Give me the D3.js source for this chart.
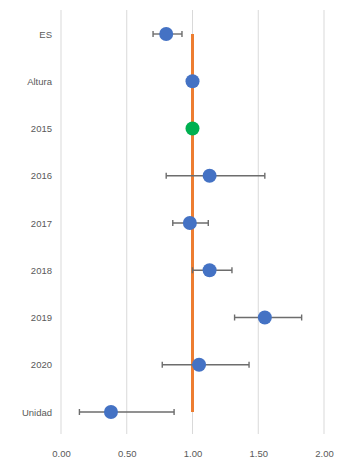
<!DOCTYPE html>
<html>
<head>
<meta charset="utf-8">
<script src="https://cdn.jsdelivr.net/npm/d3@7"></script>
<style>
  html, body { margin: 0; padding: 0; background: #fff; }
  svg { display: block; }
  text { font-family: "Liberation Sans", Arial, sans-serif; }
</style>
</head>
<body>
<div id="chart"></div>
<script>
// Categories (top to bottom) and their estimates with confidence limits
const categories = ["ES", "Altura", "2015", "2016", "2017", "2018", "2019", "2020", "Unidad"];
const estimates  = [0.80, 1.00, 1.00, 1.13, 0.98, 1.13, 1.55, 1.05, 0.38];
const lowerCI    = [0.70, null, null, 0.80, 0.85, 1.00, 1.32, 0.77, 0.14];
const upperCI    = [0.92, null, null, 1.55, 1.12, 1.30, 1.83, 1.43, 0.86];
const referenceCategory = "2015";
const referenceValue = 1;
const xTicks = [0, 0.5, 1, 1.5, 2];

const width = 340, height = 468;
const margin = { top: 10, right: 16, bottom: 34, left: 61 };

const svg = d3.select("#chart").append("svg")
  .attr("width", width).attr("height", height);

const x = d3.scaleLinear().domain([0, 2]).range([margin.left, width - margin.right]);
const y = d3.scalePoint().domain(categories)
  .range([34, 412]);

const rows = categories.map((c, i) => ({
  cat: c, est: estimates[i], lo: lowerCI[i], hi: upperCI[i]
}));

// vertical gridlines
svg.append("g").selectAll("line").data(xTicks).join("line")
  .attr("x1", d => x(d)).attr("x2", d => x(d))
  .attr("y1", margin.top).attr("y2", height - margin.bottom)
  .attr("stroke", "#d9d9d9").attr("stroke-width", 1);

// x axis labels
const xAxis = d3.axisBottom(x).tickValues(xTicks).tickFormat(d3.format(".2f")).tickSize(0).tickPadding(0);
const gx = svg.append("g").attr("transform", `translate(0,${450})`).call(xAxis);
gx.select(".domain").remove();
gx.selectAll("text").attr("fill", "#595959").attr("font-size", 9.5);

// y axis labels
const yAxis = d3.axisLeft(y).tickSize(0).tickPadding(9);
const gy = svg.append("g").attr("transform", `translate(${margin.left},0)`).call(yAxis);
gy.select(".domain").remove();
gy.selectAll("text").attr("fill", "#595959").attr("font-size", 9.5);

// reference line at 1
svg.append("path")
  .datum(categories)
  .attr("d", d3.line().x(() => x(referenceValue)).y(d => y(d)))
  .attr("stroke", "#ED7D31").attr("stroke-width", 3).attr("fill", "none");

// error bars
const eb = svg.append("g").selectAll("g").data(rows.filter(r => r.lo != null)).join("g")
  .attr("stroke", "#6d6d6d").attr("stroke-width", 1.4);
eb.append("line")
  .attr("x1", d => x(d.lo)).attr("x2", d => x(d.hi))
  .attr("y1", d => y(d.cat)).attr("y2", d => y(d.cat));
eb.append("line")
  .attr("x1", d => x(d.lo)).attr("x2", d => x(d.lo))
  .attr("y1", d => y(d.cat) - 3).attr("y2", d => y(d.cat) + 3);
eb.append("line")
  .attr("x1", d => x(d.hi)).attr("x2", d => x(d.hi))
  .attr("y1", d => y(d.cat) - 3).attr("y2", d => y(d.cat) + 3);

// point estimates
svg.append("g").selectAll("circle").data(rows).join("circle")
  .attr("cx", d => x(d.est)).attr("cy", d => y(d.cat)).attr("r", 7)
  .attr("fill", d => d.cat === referenceCategory ? "#00B050" : "#4472C4");
</script>
</body>
</html>
